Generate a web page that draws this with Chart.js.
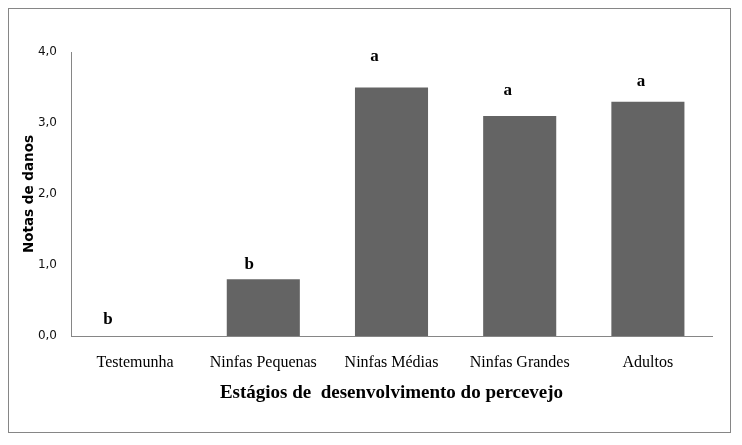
<!DOCTYPE html>
<html>
<head>
<meta charset="utf-8">
<script src="https://cdn.jsdelivr.net/npm/chart.js@4/dist/chart.umd.min.js"></script>
<style>
  html, body { margin: 0; padding: 0; background: #fff; }
  #wrap { width: 742px; height: 445px; }
</style>
</head>
<body>
<div id="wrap"><canvas id="chart" width="742" height="445"></canvas></div>
<script>
// Chart data
const categories = ["Testemunha", "Ninfas Pequenas", "Ninfas Médias", "Ninfas Grandes", "Adultos"];
const damageScores = [0, 0.8, 3.5, 3.1, 3.3];
const letters = ["b", "b", "a", "a", "a"];
const yTicks = [0, 1, 2, 3, 4];

const axisGrey = "#868686";
const barGrey = "#646464";

// outer frame around the whole figure
const framePlugin = {
  id: "frame",
  beforeDraw(chart) {
    const ctx = chart.ctx;
    ctx.save();
    ctx.fillStyle = "#fff";
    ctx.fillRect(0, 0, chart.width, chart.height);
    ctx.strokeStyle = axisGrey;
    ctx.lineWidth = 1;
    ctx.strokeRect(8.5, 8.5, 722, 424);
    ctx.restore();
  }
};

// significance letters above each bar
const letterPlugin = {
  id: "letters",
  afterDatasetsDraw(chart, args, opts) {
    const ctx = chart.ctx;
    const meta = chart.getDatasetMeta(0);
    ctx.save();
    ctx.font = "bold 17px 'Liberation Serif', serif";
    ctx.fillStyle = "#000";
    ctx.textAlign = "center";
    ctx.textBaseline = "middle";
    meta.data.forEach((bar, i) => {
      const dx = opts.dx[i] || 0;
      const dy = opts.dy[i] || 0;
      ctx.fillText(letters[i], bar.x + dx, bar.y - dy);
    });
    ctx.restore();
  }
};

new Chart(document.getElementById("chart"), {
  type: "bar",
  data: {
    labels: categories,
    datasets: [{
      data: damageScores,
      backgroundColor: barGrey,
      borderWidth: 0,
      categoryPercentage: 1,
      barPercentage: 0.57
    }]
  },
  options: {
    responsive: false,
    animation: false,
    events: [],
    layout: { padding: { left: 10, right: 30, top: 52, bottom: 39 } },
    plugins: {
      legend: { display: false },
      tooltip: { enabled: false },
      letters: {
        dx: [-27, -14, -17, -12, -7],
        dy: [16, 15, 31, 25, 20]
      }
    },
    scales: {
      x: {
        grid: { display: false, drawTicks: false },
        border: { color: axisGrey, width: 1 },
        ticks: {
          color: "#000",
          padding: 17,
          maxRotation: 0,
          autoSkip: false,
          font: { family: "'Liberation Serif', serif", size: 16 }
        },
        title: {
          display: true,
          text: "Estágios de  desenvolvimento do percevejo",
          color: "#000",
          padding: { top: 0, bottom: 2 },
          font: { family: "'Liberation Serif', serif", size: 19, weight: "bold" }
        },
        afterFit(scale) { scale.height = 70; }
      },
      y: {
        min: 0,
        max: 4,
        grid: { display: false, drawTicks: false },
        border: { color: axisGrey, width: 1 },
        afterBuildTicks(scale) {
          scale.ticks = yTicks.map(v => ({ value: v }));
        },
        ticks: {
          color: "#111",
          padding: 14,
          font: { family: "'DejaVu Sans', sans-serif", size: 12 },
          callback: v => v.toFixed(1).replace(".", ",")
        },
        title: {
          display: true,
          text: "Notas de danos",
          color: "#000",
          padding: { top: 11, bottom: 0 },
          font: { family: "'DejaVu Sans', sans-serif", size: 13.5, weight: "bold" }
        },
        afterFit(scale) { scale.width = 61; }
      }
    }
  },
  plugins: [framePlugin, letterPlugin]
});
</script>
</body>
</html>
